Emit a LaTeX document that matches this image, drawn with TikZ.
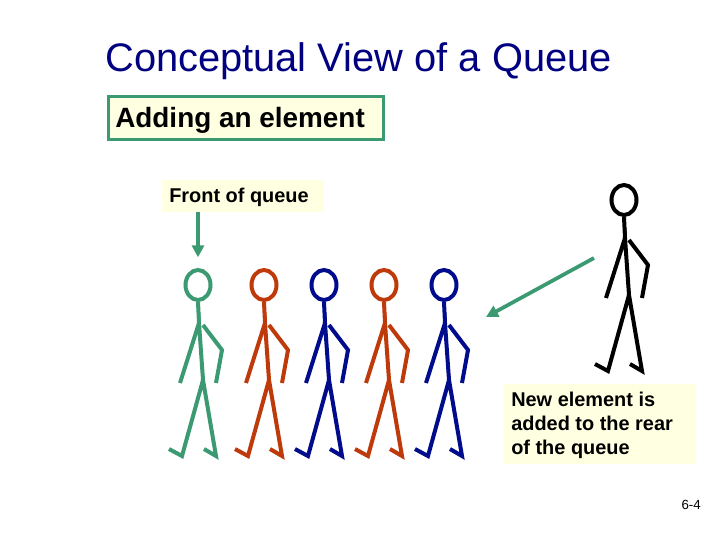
\documentclass[tikz,border=0pt]{standalone}
\usepackage{fontspec}
\setmainfont{Liberation Sans}
\usetikzlibrary{shapes.geometric,arrows.meta}
\definecolor{titleblue}{HTML}{000080}
\definecolor{queuegreen}{HTML}{3C9A72}
\definecolor{queuered}{HTML}{BE3A0A}
\definecolor{queueblue}{HTML}{000C8C}
\definecolor{notefill}{HTML}{FFFFE1}
\tikzset{
  note/.style={fill=notefill,inner sep=0pt},
  words/.style={anchor=base west,inner sep=0pt,align=left},
  limb/.style={line width=3bp,line cap=butt,line join=miter},
  head/.style={ellipse,draw,line width=3bp,minimum width=18.75bp,minimum height=22.5bp,inner sep=0pt},
  pointer/.style={queuegreen,line width=2.8bp,-{Triangle[length=9bp,width=9bp]}}
}
\newcommand{\walker}[3]{
  \node[head,draw=#3] (#1) at (#2,285) {};
  \begin{scope}[shift={(#2,285)},#3,limb]
    \draw (#1.south) -- (1,38);
    \draw (-18,98) -- (1,38) -- (5,95);
    \draw (5,40) -- (24,65) -- (18,98);
    \draw (-29,164) -- (-16,171) -- (5,95) -- (18,171) -- (6,164);
  \end{scope}
}
\begin{document}
\begin{tikzpicture}[x=0.75bp,y=-0.75bp]
  \useasboundingbox (0,0) rectangle (720,540);
  \node[words,text=titleblue,font=\fontsize{30}{34}\selectfont] (title) at (105,71) {Conceptual View of a Queue};
  \node[note,draw=queuegreen,line width=2.6bp,minimum width=206bp,minimum height=32.5bp] (adding) at (246,118) {};
  \node[words,font=\bfseries\fontsize{21}{24}\selectfont] (addingtext) at (115,127) {Adding an element};
  \node[note,minimum width=121.5bp,minimum height=24bp] (front) at (243,196) {};
  \node[words,font=\bfseries\fontsize{15}{18}\selectfont] (fronttext) at (169,202) {Front of queue};
  \walker{first}{198}{queuegreen}
  \walker{second}{264}{queuered}
  \walker{third}{324}{queueblue}
  \walker{fourth}{384}{queuered}
  \walker{fifth}{444}{queueblue}
  \begin{scope}[yshift=63.75bp]
    \walker{newcomer}{624}{black}
  \end{scope}
  \node[note,minimum width=144bp,minimum height=60bp] (rear) at (600,424) {};
  \node[words,font=\bfseries\fontsize{15}{18}\selectfont] (reartext) at (511,454) {New element is\\added to the rear\\of the queue};
  \node[anchor=base east,inner sep=0pt,font=\fontsize{10}{12}\selectfont] (page) at (701,509) {6-4};
  \coordinate (tail) at (594,258);
  \coordinate (tip) at (486,317);
  \draw[pointer] (front.south -| first) -- ([yshift=8bp]first.north);
  \draw[pointer] (tail) -- (tip);
\end{tikzpicture}
\end{document}
